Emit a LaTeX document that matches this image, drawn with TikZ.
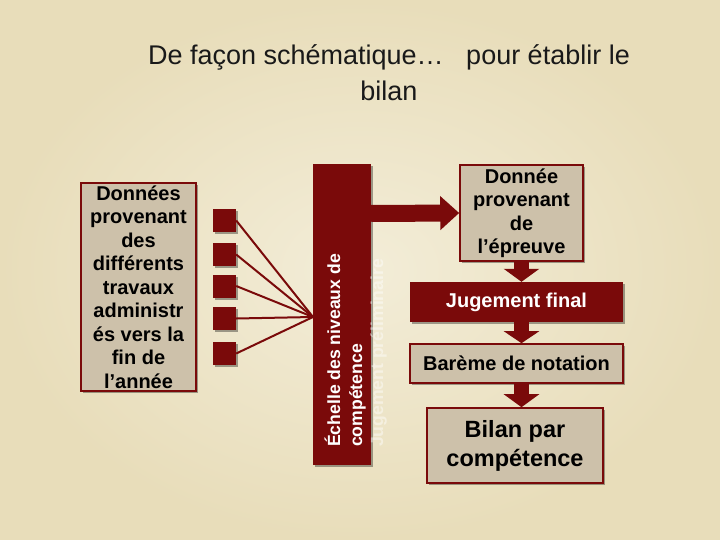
\documentclass[tikz,border=0pt]{standalone}
\usepackage{fontspec}
\setmainfont{Liberation Sans}
\usetikzlibrary{shadows,arrows.meta}
\definecolor{dred}{HTML}{7A0A0A}
\definecolor{tan}{HTML}{CDC1AA}
\definecolor{bgin}{HTML}{F3EDD8}
\definecolor{bgout}{HTML}{E8DDBA}
\tikzset{
  shad/.style={drop shadow={shadow xshift=2pt,shadow yshift=-2pt,opacity=0.35,fill=black}},
  tanbox/.style={shad,draw=dred,line width=1.6pt,fill=tan,inner sep=0pt,align=center,
     font=\fontsize{20}{23.5}\selectfont\bfseries,text=black},
  redbox/.style={shad,fill=dred,inner sep=0pt,align=center,
     font=\fontsize{20}{23.5}\selectfont\bfseries,text=white},
  sq/.style={shad,fill=dred,minimum width=23pt,minimum height=23pt,inner sep=0pt},
  feed/.style={draw=dred,line width=2pt},
  fat/.style={draw=dred,line width=#1},
  bartext/.style={rotate=90,anchor=base west,text=white,inner sep=0pt,
     font=\fontsize{17.6}{22}\selectfont\bfseries},
}
\begin{document}
\begin{tikzpicture}[x=1pt,y=-1pt]
\useasboundingbox (0,0) rectangle (720,540);
\shade[inner color=bgin,outer color=bgout] (0,0) rectangle (720,540);

% title
\node[anchor=base,align=center,font=\fontsize{27}{36}\selectfont,text=black!90,inner sep=0pt]
  (title) at (389,101) {De façon schématique…\ \ \ pour établir le\\bilan};

% left box
\node[tanbox,minimum width=115pt,minimum height=208pt] (left) at (138.5,287)
  {Données\\provenant\\des\\différents\\travaux\\administr\\és vers la\\fin de\\l’année};

% squares
\node[sq] (s1) at (224.5,220.5) {};
\node[sq] (s2) at (224.5,254.5) {};
\node[sq] (s3) at (224.5,286) {};
\node[sq] (s4) at (224.5,318.5) {};
\node[sq] (s5) at (224.5,353.5) {};

% bar
\node[redbox,minimum width=58pt,minimum height=301pt] (bar) at (342,314.5) {};
\node[bartext] (bt1) at (340,447) {Échelle des niveaux de};
\node[bartext] (bt2) at (362,447) {compétence};
\node[bartext,opacity=0.45] (bt3) at (383,447) {Jugement préliminaire};

\coordinate (hub) at (313,317);
\foreach \s in {s1,s2,s3,s4,s5} \draw[feed] (\s.east) -- (hub);

% right column
\node[tanbox,minimum width=123pt,minimum height=96pt] (d1) at (521.5,213)
  {Donnée\\provenant\\de\\l’épreuve};
\node[redbox,minimum width=213pt,minimum height=40pt] (jf) at (516.5,302) {Jugement final};
\node[tanbox,minimum width=213pt,minimum height=39pt] (bar2) at (516.5,363.5) {Barème de notation};
\node[tanbox,minimum width=176pt,minimum height=75pt,font=\fontsize{23.5}{29}\selectfont\bfseries] (bilan) at (515,445.5)
  {Bilan par\\compétence};

% fat arrows
\draw[fat=17pt,-{Triangle[length=19pt,width=33pt]}] (bar.east |- 0,213.5) -- (d1.west);
\draw[fat=15pt,-{Triangle[length=13pt,width=35pt]}] (d1.south) -- (d1.south |- jf.north);
\draw[fat=15pt,-{Triangle[length=12pt,width=35pt]}] (d1.south |- jf.south) -- (d1.south |- bar2.north);
\draw[fat=15pt,-{Triangle[length=13pt,width=35pt]}] (d1.south |- bar2.south) -- (d1.south |- bilan.north);
\end{tikzpicture}
\end{document}
